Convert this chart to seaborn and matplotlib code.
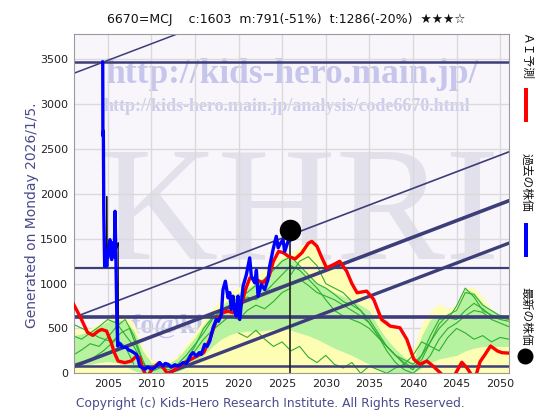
import numpy as np
import pandas as pd
import matplotlib
matplotlib.use("Agg")
import matplotlib.pyplot as plt
import seaborn as sns
from matplotlib.lines import Line2D
from matplotlib.patches import Rectangle

# ---------------- data ----------------
title_text = "6670=MCJ    c:1603  m:791(-51%)  t:1286(-20%)  ★★★☆"
x_ticks = [2005, 2010, 2015, 2020, 2025, 2030, 2035, 2040, 2045, 2050]
y_ticks = [0, 500, 1000, 1500, 2000, 2500, 3000, 3500]

blue_years = [2004.40, 2004.43, 2004.45, 2004.50, 2004.55, 2004.65, 2004.75, 2004.89, 2005.00, 2005.10,
              2005.26, 2005.36, 2005.46, 2005.55, 2005.64, 2005.75, 2005.84, 2005.95, 2006.05, 2006.15,
              2006.40, 2006.70, 2007.13, 2007.40, 2007.71, 2008.00, 2008.28, 2008.50, 2008.67, 2009.00,
              2009.24, 2009.60, 2010.00, 2010.39, 2010.70, 2010.96, 2011.34, 2011.60, 2011.92, 2012.30,
              2012.70, 2013.06, 2013.40, 2013.64, 2014.00, 2014.21, 2014.50, 2014.79, 2015.16, 2015.50,
              2015.73, 2016.12, 2016.40, 2016.70, 2017.08, 2017.45, 2017.70, 2018.03, 2018.22, 2018.49,
              2018.80, 2019.00, 2019.17, 2019.37, 2019.55, 2019.75, 2019.94, 2020.14, 2020.52, 2020.90,
              2021.28, 2021.47, 2021.86, 2022.05, 2022.24, 2022.61, 2023.00, 2023.38, 2023.57, 2023.96,
              2024.33, 2024.55, 2024.72, 2025.10, 2025.30, 2025.68, 2025.90]
blue_values = [3474, 3474, 2650, 2700, 1800, 1193, 1350, 1193, 1350, 1420,
               1490, 1300, 1268, 1400, 1457, 1300, 1806, 1235, 600, 304,
               330, 290, 289, 260, 248, 230, 211, 150, 81, 60,
               44, 70, 50, 63, 90, 119, 81, 110, 100, 70,
               95, 81, 100, 119, 110, 137, 200, 230, 193, 230,
               211, 323, 300, 359, 508, 600, 580, 656, 934, 1027,
               842, 900, 712, 860, 700, 637, 860, 600, 971, 1100,
               1287, 1082, 1008, 1150, 860, 990, 934, 1046, 1193, 1379,
               1527, 1400, 1435, 1490, 1360, 1471, 1480]

shadow_years = [2004.85, 2004.89, 2004.95, 2005.50, 2006.10, 2006.20, 2006.25]
shadow_values = [1300, 1972, 1300, 1350, 1400, 1457, 304]

red_years = [2001.0, 2001.9, 2002.7, 2003.3, 2003.9, 2004.3, 2004.87, 2005.41, 2005.76, 2006.19,
             2006.96, 2007.70, 2008.30, 2008.66, 2009.04, 2009.50, 2010.20, 2010.90, 2011.50, 2011.90,
             2012.50, 2013.00, 2013.80, 2014.90, 2016.00, 2016.70, 2017.50, 2018.20, 2018.80, 2019.40,
             2020.00, 2020.40, 2020.80, 2021.30, 2022.00, 2022.80, 2023.50, 2024.00, 2024.60, 2025.20,
             2025.70, 2026.50, 2027.25, 2028.00, 2028.40, 2029.00, 2029.50, 2030.10, 2030.90, 2031.60,
             2032.40, 2033.00, 2033.60, 2034.70, 2035.50, 2036.40, 2037.40, 2038.50, 2039.30, 2040.10,
             2040.80, 2041.60, 2042.30, 2043.10, 2043.80, 2044.50, 2044.90, 2045.60, 2046.20, 2046.60,
             2047.00, 2047.30, 2047.70, 2048.20, 2048.90, 2049.70, 2050.20, 2051.00]
red_values = [786, 619, 453, 423, 470, 489, 471, 341, 230, 137,
              119, 137, 193, 174, 44, -40, 60, 119, 44, -10,
              30, 63, 119, 174, 230, 378, 600, 675, 693, 675,
              712, 786, 934, 1064, 1046, 1008, 1082, 1249, 1360, 1342,
              1305, 1276, 1342, 1450, 1471, 1416, 1300, 1176, 1212, 1249,
              1138, 1000, 898, 916, 823, 600, 526, 508, 378, 156,
              100, 137, 81, 8, -60, -60, 0, 123, 60, 0,
              -60, 0, 130, 200, 304, 248, 230, 225]

band_years = list(range(2001, 2052))
yellow_top = [500, 480, 500, 560, 600, 640, 640, 560, 300, 150,
              120, 130, 200, 320, 450, 600, 720, 820, 900, 960,
              1020, 1080, 1160, 1260, 1330, 1330, 1420, 1470, 1400, 1200,
              1230, 1150, 950, 900, 820, 620, 530, 500, 380, 250,
              550, 700, 770, 720, 760, 950, 960, 850, 720, 650, 620]
green_top = [420, 440, 470, 520, 580, 600, 580, 480, 250, 120,
             100, 110, 170, 280, 400, 540, 650, 750, 830, 900,
             950, 1000, 1080, 1180, 1280, 1300, 1180, 1080, 1000, 960,
             900, 860, 820, 760, 700, 520, 380, 270, 180, 120,
             420, 600, 650, 620, 700, 940, 900, 780, 700, 660, 640]
green_bottom = [60, 80, 100, 120, 130, 120, 80, 30, 0, 0,
                0, 0, 20, 60, 120, 200, 300, 380, 430, 460,
                470, 470, 480, 490, 500, 480, 450, 420, 380, 330,
                280, 240, 200, 150, 100, 50, 0, 0, 0, 0,
                60, 120, 160, 180, 200, 250, 280, 300, 300, 300, 300]

green_paths = [
    ([2001, 2002, 2003, 2004, 2005, 2006, 2007, 2008, 2009, 2010],
     [420, 380, 450, 520, 600, 560, 430, 300, 120, 20]),
    ([2001, 2002, 2003, 2004, 2005, 2006, 2007, 2008, 2009],
     [200, 260, 330, 300, 400, 520, 600, 420, 150]),
    ([2001, 2002.5, 2004, 2005.5, 2006.5, 2007.5, 2008.5, 2009.5],
     [550, 480, 400, 350, 450, 500, 250, 50]),
    ([2001, 2003, 2004.5, 2006, 2007, 2008],
     [100, 150, 250, 380, 300, 100]),
    ([2010, 2011, 2012, 2013, 2014, 2015, 2016, 2017, 2018, 2019, 2020, 2021, 2022, 2023, 2024, 2025, 2026],
     [20, 60, 40, 100, 200, 320, 450, 600, 700, 760, 850, 900, 980, 1050, 1150, 1250, 1300]),
    ([2012, 2013, 2014, 2015, 2016, 2017, 2018, 2019, 2020, 2021, 2022, 2023, 2024, 2025, 2026],
     [0, 50, 120, 250, 380, 480, 560, 640, 600, 700, 760, 720, 800, 900, 950]),
    ([2013, 2014, 2015, 2016, 2017, 2018, 2019, 2020, 2021, 2022, 2023, 2024, 2025, 2026],
     [60, 150, 300, 500, 620, 680, 700, 780, 850, 820, 900, 1000, 1100, 1200]),
    ([2026, 2027, 2028, 2029, 2030, 2031, 2032, 2033, 2034, 2035, 2036, 2037, 2038, 2039, 2040,
      2041, 2042, 2043, 2044, 2045, 2046, 2047, 2048, 2049, 2050, 2051],
     [1300, 1200, 1100, 1000, 950, 880, 800, 760, 700, 600, 450, 300, 200, 120, 60,
      150, 350, 550, 650, 700, 900, 880, 760, 700, 640, 620]),
    ([2026, 2027, 2028, 2029, 2030, 2031, 2032, 2033, 2034, 2035, 2036, 2037, 2038, 2039, 2040,
      2041, 2042, 2043, 2044, 2045, 2046, 2047, 2048, 2049, 2050, 2051],
     [1200, 1150, 1050, 950, 820, 700, 640, 600, 560, 500, 400, 300, 200, 100, 40,
      200, 420, 600, 620, 600, 700, 780, 720, 640, 600, 580]),
    ([2026, 2027, 2028, 2029, 2030, 2031, 2032, 2033, 2034, 2035, 2036, 2037, 2038, 2039, 2040,
      2041, 2042, 2043, 2044, 2045, 2046, 2047, 2048, 2049, 2050, 2051],
     [1000, 1050, 980, 900, 860, 820, 760, 700, 640, 560, 420, 250, 120, 40, 0,
      80, 200, 380, 500, 560, 640, 700, 680, 600, 560, 520]),
    ([2020, 2021, 2022, 2023, 2024, 2025, 2026, 2027, 2028, 2029, 2030, 2031, 2032, 2033, 2034, 2035,
      2036, 2037, 2038, 2039, 2040, 2041, 2042, 2043, 2044, 2045, 2046, 2047, 2048, 2049, 2050, 2051],
     [450, 400, 480, 380, 300, 350, 250, 300, 180, 120, 200, 100, 60, 120, 0, 80,
      40, 0, 60, 100, 200, 350, 300, 250, 400, 500, 450, 380, 420, 350, 400, 380]),
    ([2026, 2027, 2028, 2029, 2030, 2031, 2032, 2033, 2034, 2035, 2036, 2037, 2038, 2039, 2040,
      2041, 2042, 2043, 2044, 2045, 2046, 2047, 2048, 2049, 2050, 2051],
     [1100, 1250, 1300, 1200, 1000, 950, 900, 800, 700, 560, 420, 300, 200, 150, 100,
      200, 350, 500, 600, 750, 950, 850, 700, 650, 620, 600]),
]

hline_values = [3474, 1172, 623, 78]
channel_at_2000 = [3304, 582, 37, -436]
channel_slope = 37.0

now_year = 2025.88
now_price = 1603
now_line_top = 1480

# ---------------- styling ----------------
sns.set_theme(style="white")
plt.rcParams['font.family'] = ['DejaVu Sans', 'Noto Sans CJK JP']

fig = plt.figure(figsize=(5.6, 4.2), dpi=100)
fig.patch.set_facecolor("white")
ax = fig.add_axes([0.1313, 0.1112, 0.7777, 0.8071])
ax.set_facecolor("#f8f6fb")

ax.set_xlim(2001.08, 2051.02)
ax.set_ylim(0, 3780)

# watermark texts
ax.text(0.50, 0.88, "http://kids-hero.main.jp/", transform=ax.transAxes, ha="center", va="center",
        fontsize=25.5, fontweight="bold", family="Liberation Serif", color="#c6c6ec", zorder=0.5)
ax.text(0.49, 0.786, "http://kids-hero.main.jp/analysis/code6670.html", transform=ax.transAxes,
        ha="center", va="center", fontsize=13, fontweight="bold", family="Liberation Serif",
        color="#cdcdee", zorder=0.5)
ax.text(0.52, 0.455, "KHRI", transform=ax.transAxes, ha="center", va="center",
        fontsize=118, family="Liberation Serif", color="#e2e0ea", zorder=0.5)
ax.text(0.08, 0.137, "info@kids-hero.main.jp", transform=ax.transAxes, ha="left", va="center",
        fontsize=20, fontweight="bold", family="Liberation Serif", color="#c6c6ec", zorder=0.5)

# grid
ax.set_xticks(x_ticks)
ax.set_yticks(y_ticks)
ax.grid(True, color="#dadada", linewidth=1.0, zorder=0.8)
ax.set_axisbelow(True)

# bands
ax.fill_between(band_years, 0, yellow_top, color="#fdfdb4", linewidth=0, zorder=1)
ax.fill_between(band_years, green_bottom, green_top, color="#b6f2a0", linewidth=0, zorder=1.1)

# green analog paths
for yrs, vals in green_paths:
    sns.lineplot(x=yrs, y=vals, ax=ax, color="#2fae2f", linewidth=0.8, estimator=None,
                 sort=False, zorder=1.5)

# horizontal lines
for v, lw in zip(hline_values, [1.8, 1.6, 2.6, 1.8]):
    ax.axhline(v, color="#3d3d7a", linewidth=lw, zorder=2)

# channel lines
for b, lw in zip(channel_at_2000, [1.1, 1.2, 2.6, 2.4]):
    ax.axline((2000, b), slope=channel_slope, color="#3d3d7a", linewidth=lw, zorder=2)

# now line
ax.plot([now_year, now_year], [0, now_line_top], color="#222222", linewidth=1.2, zorder=2.2)

# red forecast
sns.lineplot(x=red_years, y=red_values, ax=ax, color="#ff0000", linewidth=2.4, estimator=None,
             sort=False, zorder=3)
# thin shadow
sns.lineplot(x=shadow_years, y=shadow_values, ax=ax, color="#111111", linewidth=0.8, estimator=None,
             sort=False, zorder=3.1)
# blue history
sns.lineplot(x=blue_years, y=blue_values, ax=ax, color="#0000ff", linewidth=2.4, estimator=None,
             sort=False, zorder=3.2)
# latest price dot
ax.plot([now_year], [now_price], marker="o", markersize=14.5, color="black", zorder=4,
        linestyle="none", clip_on=False)

# axes styling
for s in ax.spines.values():
    s.set_color("#9a9a9a")
    s.set_linewidth(0.8)
ax.tick_params(axis="both", length=0, labelsize=8, colors="#222222", pad=4)
ax.set_xticklabels([str(t) for t in x_ticks])
ax.set_yticklabels([str(t) for t in y_ticks])
ax.set_xlabel("")
ax.set_ylabel("")

# figure texts
fig.text(0.511, 1 - 20 / 420, title_text, ha="center", va="center", fontsize=9, color="#111111")
fig.text(32 / 560, 1 - 215 / 420, "Generated on Monday 2026/1/5.", rotation=90, ha="center",
         va="center", fontsize=10, color="#4a4a8a")
fig.text(270 / 560, 1 - 404 / 420, "Copyright (c) Kids-Hero Research Institute. All Rights Reserved.",
         ha="center", va="center", fontsize=8.8, color="#4a4a8a")

# right side legend
jp = ['Noto Sans CJK JP', 'DejaVu Sans']
fig.text(526 / 560, 1 - 33 / 420, "ＡＩ予測", rotation=270, ha="center", va="top", fontsize=8.5,
         color="#111111", family=jp)
fig.add_artist(Rectangle((524 / 560, 1 - 122 / 420), 4 / 560, 34 / 420, transform=fig.transFigure,
                         color="#ff0000", linewidth=0))
fig.text(526 / 560, 1 - 153 / 420, "過去の株価", rotation=270, ha="center", va="top", fontsize=8.5,
         color="#111111", family=jp)
fig.add_artist(Rectangle((524 / 560, 1 - 257 / 420), 4 / 560, 34 / 420, transform=fig.transFigure,
                         color="#0000ff", linewidth=0))
fig.text(526 / 560, 1 - 287 / 420, "最新の株価", rotation=270, ha="center", va="top", fontsize=8.5,
         color="#111111", family=jp)
fig.add_artist(Line2D([525 / 560], [1 - 356 / 420], marker="o", markersize=10.5, color="black",
                      linestyle="none", transform=fig.transFigure))

fig.savefig("out.png", dpi=100)
